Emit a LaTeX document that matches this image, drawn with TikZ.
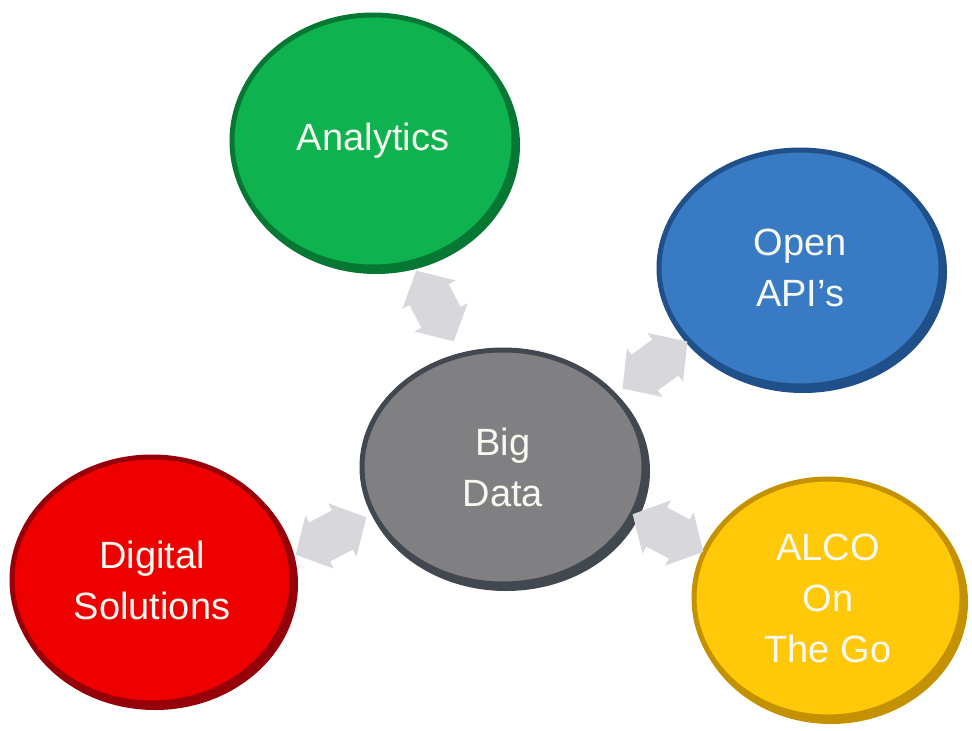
\documentclass[tikz,border=0pt]{standalone}
\usepackage{fontspec}
\setmainfont{Liberation Sans}
\usetikzlibrary{shapes.geometric,shapes.arrows}

\definecolor{greenmain}{RGB}{14,178,78}
\definecolor{greenrim}{RGB}{6,120,52}
\definecolor{bluemain}{RGB}{56,122,196}
\definecolor{bluerim}{RGB}{32,80,138}
\definecolor{graymain}{RGB}{128,128,130}
\definecolor{grayrim}{RGB}{66,72,80}
\definecolor{redmain}{RGB}{238,0,0}
\definecolor{redrim}{RGB}{150,0,8}
\definecolor{yellowmain}{RGB}{255,200,8}
\definecolor{yellowrim}{RGB}{196,146,0}
\definecolor{linkgray}{RGB}{216,216,220}
\definecolor{labeltext}{RGB}{246,249,240}

\tikzset{
  bubble/.style 2 args={
    ellipse, inner sep=0pt, align=center,
    fill=#1, draw=#2, line width=5pt,
    preaction={draw=#2, line width=6pt,
      transform canvas={xshift=3pt,yshift=-4pt}},
    text=labeltext,
    font=\fontsize{38}{51}\selectfont
  },
  link/.style={
    double arrow, fill=linkgray,
    inner xsep=0pt, inner ysep=22pt, text height=0pt, text depth=0pt,
    minimum height=80pt, double arrow head extend=8pt,
    double arrow tip angle=96
  }
}

\begin{document}
\begin{tikzpicture}[x=1pt,y=-1pt]
  \useasboundingbox (0,0) rectangle (972,731);

  % outer ellipses
  \node[bubble={greenmain}{greenrim}, minimum width=282pt, minimum height=252pt]
    (analytics) at (373,141) {Analytics};
  \node[bubble={bluemain}{bluerim}, minimum width=282pt, minimum height=236pt]
    (api) at (800,268) {Open\\API’s};
  \node[bubble={redmain}{redrim}, minimum width=280pt, minimum height=246pt]
    (digital) at (152,580) {Digital\\Solutions};
  \node[bubble={yellowmain}{yellowrim}, minimum width=268pt, minimum height=238pt]
    (alco) at (828,598) {ALCO\\On\\The Go};

  % central ellipse
  \node[bubble={graymain}{grayrim}, minimum width=282pt, minimum height=234pt]
    (bigdata) at (503,467) {Big\\Data};

  % two-way links between the centre and each outer ellipse
  \node[link, rotate=-62] (l1) at (435,306) {};
  \node[link, rotate=36]  (l2) at (655,365) {};
  \node[link, rotate=28]  (l3) at (331,536) {};
  \node[link, rotate=-28] (l4) at (668,533) {};
\end{tikzpicture}
\end{document}
